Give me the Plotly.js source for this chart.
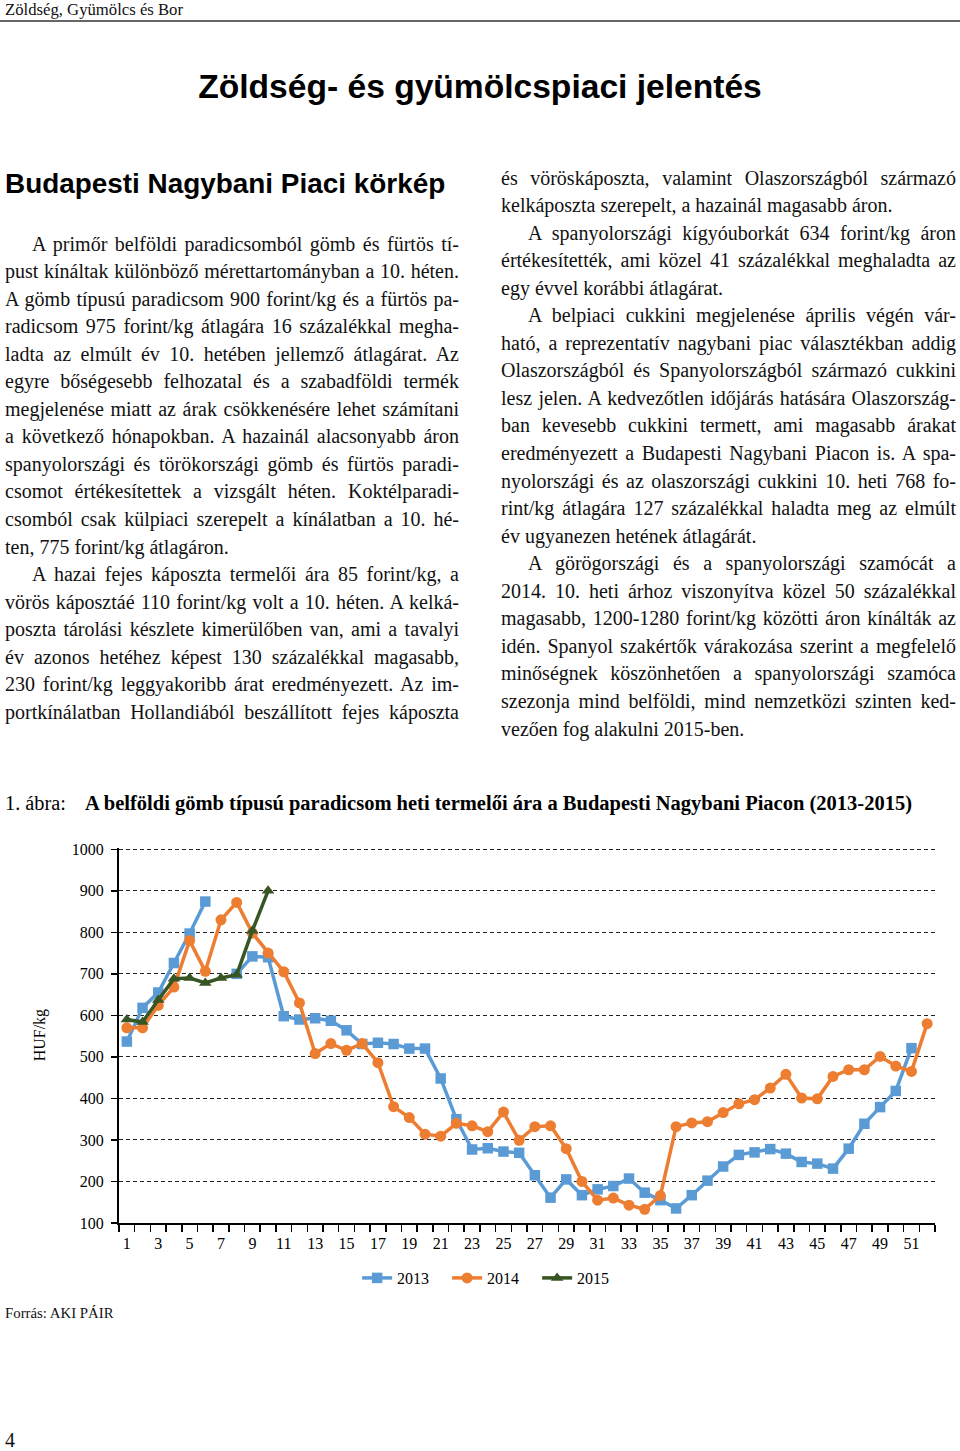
<!DOCTYPE html>
<html><head><meta charset="utf-8">
<script src="https://cdn.plot.ly/plotly-3.0.1.min.js"></script>
<style>
body{margin:0;background:#fff;}
#page{position:relative;width:960px;height:1451px;overflow:hidden;font-family:"Liberation Serif","Times New Roman",serif;color:#111;background:#fff;}
.abs{position:absolute;white-space:nowrap;}
.ln{position:absolute;height:27.55px;line-height:27.55px;font-size:20px;white-space:nowrap;text-align:justify;text-align-last:justify;box-sizing:border-box;}
.ln.last{text-align:left;text-align-last:left;}
.sans{font-family:"Liberation Sans",Arial,sans-serif;font-weight:bold;color:#000;}
#chart{position:absolute;left:0;top:830px;width:960px;height:500px;}
</style></head>
<body><div id="page">
<div class="abs" style="left:5px;top:0px;font-size:16.7px;line-height:20px;">Zöldség, Gyümölcs és Bor</div>
<div class="abs" style="left:0;top:20px;width:960px;height:1.5px;background:#666;"></div>
<div class="abs sans" style="left:0;width:960px;text-align:center;top:67px;font-size:33.6px;line-height:40px;">Zöldség- és gyümölcspiaci jelentés</div>
<div class="abs sans" style="left:5px;top:167px;font-size:27.9px;line-height:34px;">Budapesti Nagybani Piaci körkép</div>
<div id="left"></div><div id="right"></div>
<svg class="abs" style="left:0;top:785px;" width="960" height="36">
<text x="5" y="25" font-family="Liberation Serif" font-size="20.5" textLength="61" lengthAdjust="spacingAndGlyphs">1. ábra:</text>
<text x="85" y="25" font-family="Liberation Serif" font-weight="bold" font-size="20.5" textLength="827" lengthAdjust="spacingAndGlyphs">A belföldi gömb típusú paradicsom heti termelői ára a Budapesti Nagybani Piacon (2013-2015)</text>
</svg>
<div id="chart"></div>
<div class="abs" style="left:5px;top:1303px;font-size:14.8px;line-height:20px;">Forrás: AKI PÁIR</div>
<div class="abs" style="left:5px;top:1429px;font-size:20px;line-height:22px;">4</div>
</div>
<script>
// ---- text lines (layout of the page text) ----
const leftLines = [
 ["A primőr belföldi paradicsomból gömb és fürtös tí-", "i"],
 ["pust kínáltak különböző mérettartományban a 10. héten.", ""],
 ["A gömb típusú paradicsom 900 forint/kg és a fürtös pa-", ""],
 ["radicsom 975 forint/kg átlagára 16 százalékkal megha-", ""],
 ["ladta az elmúlt év 10. hetében jellemző átlagárat. Az", ""],
 ["egyre bőségesebb felhozatal és a szabadföldi termék", ""],
 ["megjelenése miatt az árak csökkenésére lehet számítani", ""],
 ["a következő hónapokban. A hazainál alacsonyabb áron", ""],
 ["spanyolországi és törökországi gömb és fürtös paradi-", ""],
 ["csomot értékesítettek a vizsgált héten. Koktélparadi-", ""],
 ["csomból csak külpiaci szerepelt a kínálatban a 10. hé-", ""],
 ["ten, 775 forint/kg átlagáron.", "l"],
 ["A hazai fejes káposzta termelői ára 85 forint/kg, a", "i"],
 ["vörös káposztáé 110 forint/kg volt a 10. héten. A kelká-", ""],
 ["poszta tárolási készlete kimerülőben van, ami a tavalyi", ""],
 ["év azonos hetéhez képest 130 százalékkal magasabb,", ""],
 ["230 forint/kg leggyakoribb árat eredményezett. Az im-", ""],
 ["portkínálatban Hollandiából beszállított fejes káposzta", ""]
];
const rightLines = [
 ["és vöröskáposzta, valamint Olaszországból származó", ""],
 ["kelkáposzta szerepelt, a hazainál magasabb áron.", "l"],
 ["A spanyolországi kígyóuborkát 634 forint/kg áron", "i"],
 ["értékesítették, ami közel 41 százalékkal meghaladta az", ""],
 ["egy évvel korábbi átlagárat.", "l"],
 ["A belpiaci cukkini megjelenése április végén vár-", "i"],
 ["ható, a reprezentatív nagybani piac választékban addig", ""],
 ["Olaszországból és Spanyolországból származó cukkini", ""],
 ["lesz jelen. A kedvezőtlen időjárás hatására Olaszország-", ""],
 ["ban kevesebb cukkini termett, ami magasabb árakat", ""],
 ["eredményezett a Budapesti Nagybani Piacon is. A spa-", ""],
 ["nyolországi és az olaszországi cukkini 10. heti 768 fo-", ""],
 ["rint/kg átlagára 127 százalékkal haladta meg az elmúlt", ""],
 ["év ugyanezen hetének átlagárát.", "l"],
 ["A görögországi és a spanyolországi szamócát a", "i"],
 ["2014. 10. heti árhoz viszonyítva közel 50 százalékkal", ""],
 ["magasabb, 1200-1280 forint/kg közötti áron kínálták az", ""],
 ["idén. Spanyol szakértők várakozása szerint a megfelelő", ""],
 ["minőségnek köszönhetően a spanyolországi szamóca", ""],
 ["szezonja mind belföldi, mind nemzetközi szinten ked-", ""],
 ["vezően fog alakulni 2015-ben.", "l"]
];
function placeLines(lines, left, width, top){
  const page=document.getElementById('page');
  lines.forEach((l,i)=>{
    const d=document.createElement('div');
    d.className='ln'+(l[1]==='l'?' last':'');
    d.style.left=left+'px'; d.style.width=width+'px';
    d.style.top=(top+i*27.55)+'px';
    if(l[1]==='i') d.style.paddingLeft='27px';
    d.textContent=l[0];
    page.appendChild(d);
  });
}
placeLines(leftLines,5,454,230.5);
placeLines(rightLines,501,455,164.5);

// ---- chart data ----
const weeks = [1,2,3,4,5,6,7,8,9,10,11,12,13,14,15,16,17,18,19,20,21,22,23,24,25,26,27,28,29,30,31,32,33,34,35,36,37,38,39,40,41,42,43,44,45,46,47,48,49,50,51,52];
const price2013 = [537,618,655,726,797,874,null,700,742,740,598,590,593,587,564,531,534,531,520,520,448,350,277,280,272,269,215,161,205,167,181,189,207,173,155,135,167,202,236,264,270,278,267,247,243,231,279,339,379,418,521,null];
const price2014 = [570,570,624,668,780,706,830,872,798,750,705,630,508,532,516,532,486,380,354,314,309,340,334,320,367,299,332,334,279,200,155,160,143,133,166,332,341,344,366,387,397,425,458,401,399,453,469,469,501,478,465,580];
const price2015 = [590,584,637,688,690,678,690,698,804,900,null,null,null,null,null,null,null,null,null,null,null,null,null,null,null,null,null,null,null,null,null,null,null,null,null,null,null,null,null,null,null,null,null,null,null,null,null,null,null,null,null,null];
const xTickLabels = [1,3,5,7,9,11,13,15,17,19,21,23,25,27,29,31,33,35,37,39,41,43,45,47,49,51];
const seriesNames = ['2013','2014','2015'];
const yTitle = 'HUF/kg';

const traces = [
  {x:weeks,y:price2013,name:seriesNames[0],mode:'lines+markers',connectgaps:false,
   line:{color:'#5B9BD5',width:3.5},marker:{symbol:'square',size:10.5,color:'#5B9BD5'}},
  {x:weeks,y:price2014,name:seriesNames[1],mode:'lines+markers',connectgaps:false,
   line:{color:'#ED7D31',width:3.5},marker:{symbol:'circle',size:11,color:'#ED7D31'}},
  {x:weeks,y:price2015,name:seriesNames[2],mode:'lines+markers',connectgaps:false,
   line:{color:'#375623',width:3.5},marker:{symbol:'triangle-up',size:11,color:'#375623'}}
];
const layout = {
  width:960,height:500,margin:{l:119,r:25,t:18,b:107},
  paper_bgcolor:'rgba(0,0,0,0)',plot_bgcolor:'rgba(0,0,0,0)',
  font:{family:'Liberation Serif, Times New Roman, serif',size:16,color:'#000'},
  showlegend:true,
  legend:{orientation:'h',xref:'container',yref:'container',x:0.372,xanchor:'left',y:0.104,yanchor:'middle',
    font:{size:16},entrywidth:45,entrywidthmode:'pixels',bgcolor:'rgba(0,0,0,0)'},
  xaxis:{range:[0.5,52.5],tickmode:'array',tickvals:xTickLabels,ticks:'',showline:true,linecolor:'#000',linewidth:1.5,
    showgrid:false,zeroline:false,ticklabelstandoff:5,
    minor:{tick0:0.5,dtick:1,ticks:'outside',ticklen:7,tickcolor:'#000',tickwidth:1.5,showgrid:false}},
  yaxis:{range:[100,1003],tick0:100,dtick:100,ticks:'outside',ticklen:6,tickcolor:'#000',tickwidth:1.5,
    showline:true,linecolor:'#000',linewidth:2,showgrid:true,gridcolor:'#222',gridwidth:1,griddash:'4px,3px',
    zeroline:false,ticklabelstandoff:4},
  annotations:[{text:yTitle,textangle:-90,xref:'paper',yref:'paper',x:-0.097,y:0.5,showarrow:false,
    xanchor:'center',yanchor:'middle',font:{size:16}}]
};
Plotly.newPlot('chart',traces,layout,{staticPlot:true,displayModeBar:false});
</script>
</body></html>
